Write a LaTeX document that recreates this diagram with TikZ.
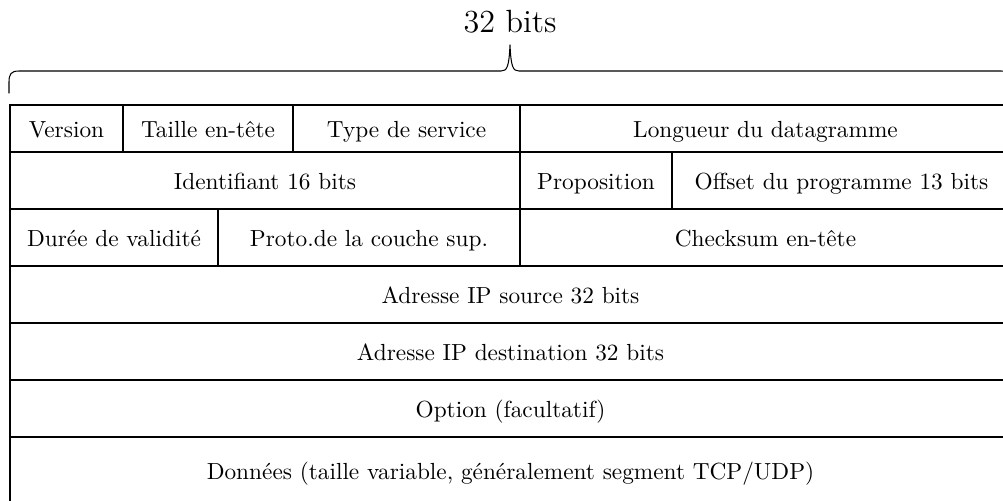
\documentclass[tikz,border=0pt]{standalone}
\usepackage{fontspec}

% IPv4 header layout; coordinates are given in a pixel-like unit (y grows downward)
\tikzset{
  rule/.style={line width=1.1pt},
  celltext/.style={anchor=base, inner sep=0pt},
  bracepath/.style={line width=0.45pt, line cap=round, line join=round},
  titletext/.style={font=\fontsize{13.8pt}{16pt}\selectfont, anchor=base, inner sep=0pt}
}
% one framed cell: name, left, top, right, bottom, text
\newcommand\hdrcell[6]{%
  \draw[rule] (#2,#3) rectangle (#4,#5);
  \node[celltext] (#1) at ({(#2+#4)/2},{(#3+#5)/2+9}) {#6};
}

\begin{document}
\begin{tikzpicture}[x=0.4292pt, y=-0.4292pt]
  \useasboundingbox (0,0) rectangle (1003,500);
  \clip (0,0) rectangle (1003,500);

  % width label and brace
  \node[titletext] (title) at (510,32) {32 bits};
  \coordinate (braceL) at (9,93);
  \coordinate (braceR) at (1011,93);
  \coordinate (braceTip) at (510,45);
  \draw[bracepath] (braceL) -- (9,82) .. controls (9,74) and (11,71) .. (19,71)
    -- (501,71) .. controls (507,71) and (509,67) .. (braceTip)
    .. controls (511,67) and (513,71) .. (519,71)
    -- (1001,71) .. controls (1009,71) and (1011,74) .. (1011,82) -- (braceR);

  % row 1
  \hdrcell{version}{10}{105}{123}{152}{Version}
  \hdrcell{ihl}{123}{105}{293}{152}{Taille en-tête}
  \hdrcell{tos}{293}{105}{520}{152}{Type de service}
  \hdrcell{length}{520}{105}{1011}{152}{Longueur du datagramme}

  % row 2
  \hdrcell{ident}{10}{152}{520}{209}{Identifiant 16 bits}
  \hdrcell{flags}{520}{152}{672}{209}{Proposition}
  \hdrcell{offset}{672}{152}{1011}{209}{Offset du programme 13 bits}

  % row 3
  \hdrcell{ttl}{10}{209}{218}{266}{Durée de validité}
  \hdrcell{proto}{218}{209}{520}{266}{Proto.de la couche sup.}
  \hdrcell{checksum}{520}{209}{1011}{266}{Checksum en-tête}

  % full-width rows
  \hdrcell{src}{10}{266}{1011}{323}{Adresse IP source 32 bits}
  \hdrcell{dst}{10}{323}{1011}{380}{Adresse IP destination 32 bits}
  \hdrcell{opt}{10}{380}{1011}{437}{Option (facultatif)}
  \hdrcell{data}{10}{437}{1011}{504}{Données (taille variable, généralement segment TCP/UDP)}
\end{tikzpicture}
\end{document}
